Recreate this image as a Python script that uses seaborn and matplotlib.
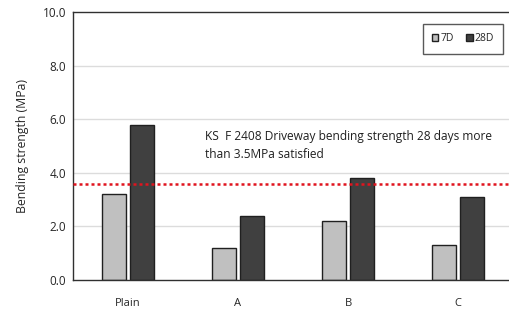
import numpy as np
import pandas as pd
import matplotlib
matplotlib.use("Agg")
import matplotlib.pyplot as plt
import seaborn as sns

# data
mixes = ["Plain", "A", "B", "C"]
strength_7d = [3.2, 1.2, 2.2, 1.3]
strength_28d = [5.8, 2.4, 3.8, 3.1]
ages = ["7D", "28D"]
ks_limit = 3.6
yticks = [0, 2, 4, 6, 8, 10]

df = pd.DataFrame({
    "mix": mixes * 2,
    "age": ["7D"] * len(mixes) + ["28D"] * len(mixes),
    "strength": strength_7d + strength_28d,
})

sns.set_style("white")
plt.rcParams["font.family"] = ["Open Sans", "DejaVu Sans"]

fig = plt.figure(figsize=(5.10, 3.13), dpi=100)
ax = fig.add_axes([0.143, 0.105, 0.863, 0.857])

for y in yticks[1:-1]:
    ax.axhline(y, color="#dcdcdc", lw=1.0, zorder=0)

sns.barplot(data=df, x="mix", y="strength", hue="age", hue_order=ages,
            palette={"7D": "#c0c0c0", "28D": "#404040"},
            width=0.5, gap=0.12, edgecolor="#202020", linewidth=1.0,
            ax=ax, zorder=2)

ax.axhline(ks_limit, color="#e0141e", ls=(0, (1.2, 1.2)), lw=1.8, zorder=3)
ax.text(0.7, 5.6, "KS  F 2408 Driveway bending strength 28 days more\nthan 3.5MPa satisfied",
        fontsize=8.6, color="#202020", va="top", ha="left", linespacing=1.5)

ax.set_ylim(0, 10)
ax.set_xlim(-0.5, 3.5)
ax.set_yticks(yticks)
ax.set_yticklabels([f"{v:.1f}" for v in yticks], fontsize=8.5)
ax.set_xticks(range(len(mixes)))
ax.set_xticklabels(mixes, fontsize=8)
ax.set_xticks([0.5, 1.5, 2.5], minor=True)
ax.tick_params(axis="x", which="major", length=0, pad=13)
ax.tick_params(axis="x", which="minor", direction="in", length=4, width=1, color="#303030")
ax.tick_params(axis="y", which="major", direction="in", length=4, width=1, color="#303030", pad=5)
ax.set_xlabel("")
ax.set_ylabel("Bending strength (MPa)", fontsize=8.8, labelpad=10)

for side in ["left", "bottom", "top", "right"]:
    ax.spines[side].set_visible(True)
    ax.spines[side].set_color("#303030")
    ax.spines[side].set_linewidth(1.0)

leg = ax.legend(loc="upper right", bbox_to_anchor=(0.99, 0.975), ncol=2, fontsize=7.5,
                frameon=True, fancybox=False, edgecolor="#303030", handlelength=0.6,
                handleheight=0.6, handletextpad=0.2, columnspacing=1.2,
                borderpad=0.9, title=None)
leg.get_frame().set_linewidth(1.0)

fig.savefig("out.png", dpi=100, facecolor="white")
